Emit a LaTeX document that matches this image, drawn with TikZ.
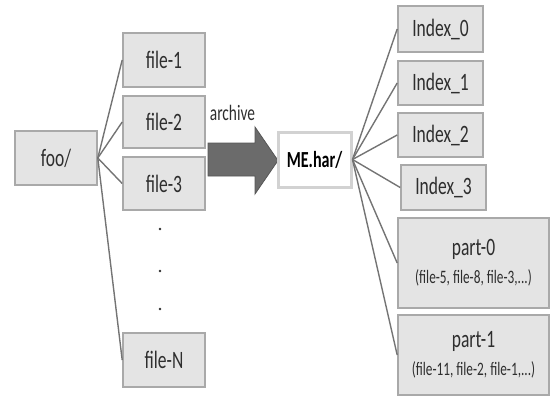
\documentclass[tikz,border=0pt]{standalone}
\usepackage{fontspec}
\setmainfont{Carlito}[FakeStretch=0.7]
\definecolor{boxfill}{HTML}{E4E4E4}
\definecolor{boxline}{HTML}{A9A9A9}
\definecolor{linkgray}{HTML}{747474}
\definecolor{arrowfill}{HTML}{6B6B6B}
\definecolor{txtgray}{HTML}{2E2E2E}
\tikzset{
  box/.style={draw=boxline, fill=boxfill, line width=1.6pt, text=txtgray,
              font=\fontsize{25}{26}\selectfont, inner sep=1pt},
  link/.style={draw=linkgray, line width=1.4pt},
}
\newcommand{\partlist}[1]{{\fontsize{19}{21}\selectfont #1}}

\begin{document}
\begin{tikzpicture}[x=1pt, y=-1pt]
  \useasboundingbox (0,0) rectangle (552,400);
  % Source directory and its files
  \node[box, minimum width=82pt, minimum height=54pt] (foo) at (56,158) {foo/};
  \node[box, minimum width=82pt, minimum height=54pt] (f1) at (164,60) {file-1};
  \node[box, minimum width=82pt, minimum height=52pt] (f2) at (164,122) {file-2};
  \node[box, minimum width=82pt, minimum height=53pt] (f3) at (164,183.5) {file-3};
  \node[box, minimum width=82pt, minimum height=54pt] (fN) at (164,360) {file-N};
  \foreach \f in {f1,f2,f3,fN}
    \draw[link] (foo.east) -- (\f.west);
  % Dots between file-3 and file-N
  \foreach \y in {229,271,309}
    \fill[txtgray] (160,\y) circle (1.4pt);
  % Archive arrow
  \draw[fill=arrowfill, draw=arrowfill!80!black, line width=0.8pt]
    (208,143) -- (255,143) -- (255,127) -- (278,160.5) -- (255,194)
    -- (255,176) -- (208,176) -- cycle;
  \node[text=txtgray, font=\fontsize{22}{24}\selectfont] (arch) at (232.5,113) {archive};
  % Archive and its contents
  \node[box, draw=gray!35, fill=white, line width=3pt, text=black,
        minimum width=73pt, minimum height=55pt,
        font=\bfseries\fontsize{23}{25}\selectfont] (har) at (314.5,159.5) {ME.har/};
  \node[box, minimum width=85pt, minimum height=46pt] (i0) at (440.5,29) {Index\_0};
  \node[box, minimum width=85pt, minimum height=44pt] (i1) at (440.5,83) {Index\_1};
  \node[box, minimum width=85pt, minimum height=44pt] (i2) at (440.5,135) {Index\_2};
  \node[box, minimum width=85pt, minimum height=45pt] (i3) at (443.5,187.5) {Index\_3};
  \node[box, minimum width=151pt, minimum height=90pt, align=center] (p0) at (473.5,263)
    {part-0\\[2pt]\partlist{(file-5, file-8, file-3,...)}};
  \node[box, minimum width=151pt, minimum height=80pt, align=center] (p1) at (473.5,355)
    {part-1\\[2pt]\partlist{(file-11, file-2, file-1,...)}};
  \foreach \c in {i0,i1,i2,i3,p0,p1}
    \draw[link] (har.east) -- (\c.west);
\end{tikzpicture}
\end{document}
